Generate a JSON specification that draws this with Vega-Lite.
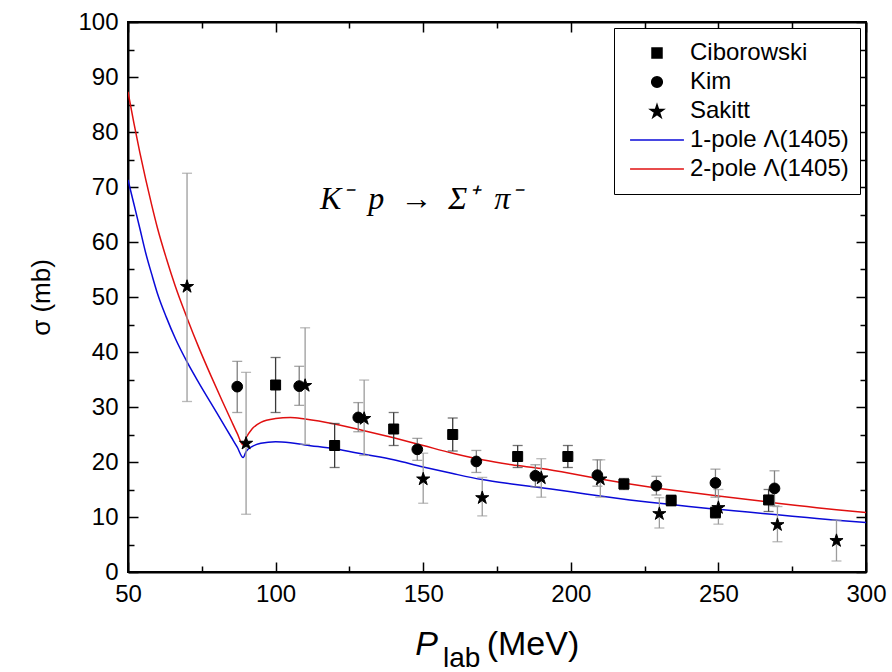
{
  "$schema": "https://vega.github.io/schema/vega-lite/v6.json",
  "width": 738,
  "height": 550,
  "autosize": {"type": "none"},
  "padding": {"left": 128, "top": 22, "right": 26, "bottom": 100},
  "background": "white",
  "config": {
    "view": {"stroke": "black", "strokeWidth": 2},
    "axis": {
      "domainColor": "black", "domainWidth": 2, "tickColor": "black", "tickWidth": 1.5,
      "labelColor": "black", "labelFont": "Liberation Sans", "labelFontSize": 24,
      "grid": false, "titleFont": "Liberation Sans", "titleFontWeight": "normal", "titleColor": "black",
      "labelOverlap": false, "labelFlush": false, "labelBound": false
    },
    "legend": {
      "orient": "top-right", "offset": 6, "padding": 11, "strokeColor": "black", "strokeWidth": 1,
      "fillColor": "white", "labelFont": "Liberation Sans", "labelFontSize": 24, "labelColor": "black",
      "labelOffset": 5, "rowPadding": 1, "clipHeight": 28, "symbolOffset": 4, "symbolStrokeWidth": 1.5,
      "labelLimit": 400
    }
  },
  "datasets": {
    "points": [
      {"series": "Ciborowski", "x": 100, "y": 34, "lo": 29, "hi": 39},
      {"series": "Ciborowski", "x": 120, "y": 23, "lo": 19, "hi": 27},
      {"series": "Ciborowski", "x": 140, "y": 26, "lo": 23, "hi": 29},
      {"series": "Ciborowski", "x": 160, "y": 25, "lo": 22, "hi": 28},
      {"series": "Ciborowski", "x": 182, "y": 21, "lo": 19, "hi": 23},
      {"series": "Ciborowski", "x": 199, "y": 21, "lo": 19, "hi": 23},
      {"series": "Ciborowski", "x": 218, "y": 16, "lo": 15, "hi": 17},
      {"series": "Ciborowski", "x": 234, "y": 13, "lo": 12, "hi": 14},
      {"series": "Ciborowski", "x": 249, "y": 10.8, "lo": 9.8, "hi": 11.8},
      {"series": "Ciborowski", "x": 267, "y": 13.1, "lo": 11, "hi": 15},
      {"series": "Kim", "x": 87, "y": 33.7, "lo": 29, "hi": 38.3},
      {"series": "Kim", "x": 108, "y": 33.8, "lo": 30.3, "hi": 37.4},
      {"series": "Kim", "x": 128, "y": 28.1, "lo": 25.5, "hi": 30.8},
      {"series": "Kim", "x": 148, "y": 22.3, "lo": 20.3, "hi": 24.3},
      {"series": "Kim", "x": 168, "y": 20.1, "lo": 18.1, "hi": 22.1},
      {"series": "Kim", "x": 188, "y": 17.5, "lo": 15.5, "hi": 19.5},
      {"series": "Kim", "x": 209, "y": 17.6, "lo": 15.6, "hi": 20.4},
      {"series": "Kim", "x": 229, "y": 15.7, "lo": 14, "hi": 17.4},
      {"series": "Kim", "x": 249, "y": 16.2, "lo": 13.6, "hi": 18.7},
      {"series": "Kim", "x": 269, "y": 15.2, "lo": 12, "hi": 18.4},
      {"series": "Sakitt", "x": 70, "y": 52, "lo": 31, "hi": 72.5},
      {"series": "Sakitt", "x": 90, "y": 23.5, "lo": 10.5, "hi": 36.3},
      {"series": "Sakitt", "x": 110, "y": 34, "lo": 23.2, "hi": 44.4},
      {"series": "Sakitt", "x": 130, "y": 28, "lo": 21.2, "hi": 34.9},
      {"series": "Sakitt", "x": 150, "y": 17, "lo": 12.5, "hi": 21.6},
      {"series": "Sakitt", "x": 170, "y": 13.6, "lo": 10.2, "hi": 17.2},
      {"series": "Sakitt", "x": 190, "y": 17.2, "lo": 13.6, "hi": 20.6},
      {"series": "Sakitt", "x": 210, "y": 17, "lo": 13.6, "hi": 20.4},
      {"series": "Sakitt", "x": 230, "y": 10.7, "lo": 8, "hi": 13.5},
      {"series": "Sakitt", "x": 250, "y": 11.8, "lo": 8.7, "hi": 15},
      {"series": "Sakitt", "x": 270, "y": 8.7, "lo": 5.5, "hi": 11.9},
      {"series": "Sakitt", "x": 290, "y": 5.8, "lo": 2, "hi": 9.4}
    ],
    "curves": [
      {"series": "1-pole Λ(1405)", "x": 50, "y": 71.3},
      {"series": "1-pole Λ(1405)", "x": 52, "y": 66.9},
      {"series": "1-pole Λ(1405)", "x": 54, "y": 62.5},
      {"series": "1-pole Λ(1405)", "x": 56, "y": 58.0},
      {"series": "1-pole Λ(1405)", "x": 58, "y": 54.2},
      {"series": "1-pole Λ(1405)", "x": 60, "y": 50.6},
      {"series": "1-pole Λ(1405)", "x": 63, "y": 46.3},
      {"series": "1-pole Λ(1405)", "x": 66, "y": 42.5},
      {"series": "1-pole Λ(1405)", "x": 70, "y": 38.2},
      {"series": "1-pole Λ(1405)", "x": 74, "y": 34.4},
      {"series": "1-pole Λ(1405)", "x": 78, "y": 30.8},
      {"series": "1-pole Λ(1405)", "x": 82, "y": 27.2},
      {"series": "1-pole Λ(1405)", "x": 85, "y": 24.5},
      {"series": "1-pole Λ(1405)", "x": 87, "y": 22.7},
      {"series": "1-pole Λ(1405)", "x": 89, "y": 20.8},
      {"series": "1-pole Λ(1405)", "x": 90, "y": 21.9},
      {"series": "1-pole Λ(1405)", "x": 92, "y": 22.8},
      {"series": "1-pole Λ(1405)", "x": 95, "y": 23.4},
      {"series": "1-pole Λ(1405)", "x": 100, "y": 23.7},
      {"series": "1-pole Λ(1405)", "x": 105, "y": 23.5},
      {"series": "1-pole Λ(1405)", "x": 110, "y": 23.1},
      {"series": "1-pole Λ(1405)", "x": 120, "y": 22.4},
      {"series": "1-pole Λ(1405)", "x": 130, "y": 21.4},
      {"series": "1-pole Λ(1405)", "x": 140, "y": 20.4},
      {"series": "1-pole Λ(1405)", "x": 150, "y": 19.1},
      {"series": "1-pole Λ(1405)", "x": 160, "y": 17.9},
      {"series": "1-pole Λ(1405)", "x": 170, "y": 16.8},
      {"series": "1-pole Λ(1405)", "x": 180, "y": 16.0},
      {"series": "1-pole Λ(1405)", "x": 190, "y": 15.3},
      {"series": "1-pole Λ(1405)", "x": 200, "y": 14.6},
      {"series": "1-pole Λ(1405)", "x": 210, "y": 13.8},
      {"series": "1-pole Λ(1405)", "x": 220, "y": 13.1},
      {"series": "1-pole Λ(1405)", "x": 230, "y": 12.5},
      {"series": "1-pole Λ(1405)", "x": 240, "y": 11.9},
      {"series": "1-pole Λ(1405)", "x": 250, "y": 11.4},
      {"series": "1-pole Λ(1405)", "x": 260, "y": 10.9},
      {"series": "1-pole Λ(1405)", "x": 270, "y": 10.4},
      {"series": "1-pole Λ(1405)", "x": 280, "y": 9.9},
      {"series": "1-pole Λ(1405)", "x": 290, "y": 9.4},
      {"series": "1-pole Λ(1405)", "x": 300, "y": 9.0},
      {"series": "2-pole Λ(1405)", "x": 50, "y": 87.3},
      {"series": "2-pole Λ(1405)", "x": 52, "y": 81.6},
      {"series": "2-pole Λ(1405)", "x": 54, "y": 76.3},
      {"series": "2-pole Λ(1405)", "x": 56, "y": 71.4},
      {"series": "2-pole Λ(1405)", "x": 58, "y": 66.8},
      {"series": "2-pole Λ(1405)", "x": 60, "y": 62.5},
      {"series": "2-pole Λ(1405)", "x": 63, "y": 57.0},
      {"series": "2-pole Λ(1405)", "x": 66, "y": 52.0},
      {"series": "2-pole Λ(1405)", "x": 70, "y": 46.2},
      {"series": "2-pole Λ(1405)", "x": 74, "y": 40.8},
      {"series": "2-pole Λ(1405)", "x": 78, "y": 35.8},
      {"series": "2-pole Λ(1405)", "x": 82, "y": 31.0},
      {"series": "2-pole Λ(1405)", "x": 85, "y": 27.5},
      {"series": "2-pole Λ(1405)", "x": 87, "y": 25.2},
      {"series": "2-pole Λ(1405)", "x": 89, "y": 23.1},
      {"series": "2-pole Λ(1405)", "x": 90, "y": 24.4},
      {"series": "2-pole Λ(1405)", "x": 92, "y": 26.0},
      {"series": "2-pole Λ(1405)", "x": 95, "y": 27.2},
      {"series": "2-pole Λ(1405)", "x": 100, "y": 27.9},
      {"series": "2-pole Λ(1405)", "x": 105, "y": 28.1},
      {"series": "2-pole Λ(1405)", "x": 110, "y": 27.8},
      {"series": "2-pole Λ(1405)", "x": 120, "y": 26.9},
      {"series": "2-pole Λ(1405)", "x": 130, "y": 25.7},
      {"series": "2-pole Λ(1405)", "x": 140, "y": 24.4},
      {"series": "2-pole Λ(1405)", "x": 150, "y": 23.0},
      {"series": "2-pole Λ(1405)", "x": 160, "y": 21.6},
      {"series": "2-pole Λ(1405)", "x": 170, "y": 20.4},
      {"series": "2-pole Λ(1405)", "x": 180, "y": 19.5},
      {"series": "2-pole Λ(1405)", "x": 190, "y": 18.8},
      {"series": "2-pole Λ(1405)", "x": 200, "y": 17.9},
      {"series": "2-pole Λ(1405)", "x": 210, "y": 16.9},
      {"series": "2-pole Λ(1405)", "x": 220, "y": 16.0},
      {"series": "2-pole Λ(1405)", "x": 230, "y": 15.2},
      {"series": "2-pole Λ(1405)", "x": 240, "y": 14.5},
      {"series": "2-pole Λ(1405)", "x": 250, "y": 13.8},
      {"series": "2-pole Λ(1405)", "x": 260, "y": 13.2},
      {"series": "2-pole Λ(1405)", "x": 270, "y": 12.5},
      {"series": "2-pole Λ(1405)", "x": 280, "y": 11.9},
      {"series": "2-pole Λ(1405)", "x": 290, "y": 11.3},
      {"series": "2-pole Λ(1405)", "x": 300, "y": 10.8}
    ]
  },
  "layer": [
    {
      "data": {"name": "curves"},
      "mark": {"type": "line", "strokeWidth": 1.5, "interpolate": "monotone", "clip": true},
      "encoding": {
        "x": {"field": "x", "type": "quantitative", "scale": {"domain": [50, 300], "nice": false, "zero": false},
          "axis": {"orient": "top", "values": [50, 100, 150, 200, 250, 300], "labels": false, "title": null, "tickSize": -10}},
        "y": {"field": "y", "type": "quantitative", "scale": {"domain": [0, 100], "nice": false},
          "axis": {"orient": "right", "values": [0, 10, 20, 30, 40, 50, 60, 70, 80, 90, 100], "labels": false, "title": null, "tickSize": -10}},
        "stroke": {"field": "series", "type": "nominal", "legend": {"title": null}},
        "detail": {"field": "series"}
      }
    },
    {
      "data": {"name": "points"},
      "mark": {"type": "tick", "orient": "horizontal", "size": 10, "thickness": 1.3},
      "encoding": {
        "x": {"field": "x", "type": "quantitative", "scale": {"domain": [50, 300], "nice": false, "zero": false},
          "axis": {"orient": "top", "values": [75, 125, 175, 225, 275], "labels": false, "title": null, "domain": false, "tickSize": -6}},
        "y": {"field": "lo", "type": "quantitative", "scale": {"domain": [0, 100], "nice": false},
          "axis": {"orient": "right", "values": [5, 15, 25, 35, 45, 55, 65, 75, 85, 95], "labels": false, "title": null, "domain": false, "tickSize": -6}},
        "color": {"condition": [{"test": "datum.series === 'Ciborowski'", "value": "#3a3a3a"}, {"test": "datum.series === 'Kim'", "value": "#808080"}], "value": "#9c9c9c"}
      }
    },
    {
      "data": {"name": "points"},
      "mark": {"type": "tick", "orient": "horizontal", "size": 10, "thickness": 1.3},
      "encoding": {
        "x": {"field": "x", "type": "quantitative", "scale": {"domain": [50, 300], "nice": false, "zero": false},
          "axis": {"orient": "bottom", "values": [75, 125, 175, 225, 275], "labels": false, "title": null, "domain": false, "tickSize": -6}},
        "y": {"field": "hi", "type": "quantitative", "scale": {"domain": [0, 100], "nice": false},
          "axis": {"orient": "left", "values": [5, 15, 25, 35, 45, 55, 65, 75, 85, 95], "labels": false, "title": null, "domain": false, "tickSize": -6}},
        "color": {"condition": [{"test": "datum.series === 'Ciborowski'", "value": "#3a3a3a"}, {"test": "datum.series === 'Kim'", "value": "#808080"}], "value": "#9c9c9c"}
      }
    },
    {
      "layer": [
        {
          "data": {"name": "points"},
          "mark": {"type": "rule", "strokeWidth": 1.3},
          "encoding": {
            "x": {"field": "x", "type": "quantitative", "scale": {"domain": [50, 300], "nice": false, "zero": false},
              "axis": {"orient": "bottom", "values": [50, 100, 150, 200, 250, 300], "title": null, "tickSize": -10, "labelPadding": 20}},
            "y": {"field": "lo", "type": "quantitative", "scale": {"domain": [0, 100], "nice": false},
              "axis": {"orient": "left", "values": [0, 10, 20, 30, 40, 50, 60, 70, 80, 90, 100],
                "title": "σ (mb)", "titleFontSize": 26, "titlePadding": 23, "tickSize": -10, "labelPadding": 20}},
            "y2": {"field": "hi"},
            "color": {"condition": [{"test": "datum.series === 'Ciborowski'", "value": "#3a3a3a"}, {"test": "datum.series === 'Kim'", "value": "#808080"}], "value": "#9c9c9c"}
          }
        },
        {
          "data": {"name": "points"},
          "mark": {"type": "point", "filled": true, "opacity": 1, "strokeWidth": 1},
          "encoding": {
            "x": {"field": "x", "type": "quantitative"},
            "y": {"field": "y", "type": "quantitative"},
            "shape": {"field": "series", "type": "nominal", "legend": {"title": null},
              "scale": {"domain": ["Ciborowski", "Kim", "Sakitt", "1-pole Λ(1405)", "2-pole Λ(1405)"],
                "range": ["square", "circle", "M0,-0.905L0.2245,-0.214L0.9511,-0.214L0.3633,0.213L0.5878,0.904L0,0.477L-0.5878,0.904L-0.3633,0.213L-0.9511,-0.214L-0.2245,-0.214Z", "stroke", "stroke"]}},
            "fill": {"field": "series", "type": "nominal", "legend": {"title": null},
              "scale": {"domain": ["Ciborowski", "Kim", "Sakitt", "1-pole Λ(1405)", "2-pole Λ(1405)"],
                "range": ["black", "black", "black", "#0a0ad8", "#e01010"]}},
            "stroke": {"field": "series", "type": "nominal", "legend": {"title": null},
              "scale": {"domain": ["Ciborowski", "Kim", "Sakitt", "1-pole Λ(1405)", "2-pole Λ(1405)"],
                "range": ["black", "black", "black", "#0a0ad8", "#e01010"]}},
            "size": {"field": "series", "type": "nominal", "legend": {"title": null},
              "scale": {"type": "ordinal", "domain": ["Ciborowski", "Kim", "Sakitt", "1-pole Λ(1405)", "2-pole Λ(1405)"],
                "range": [100, 115, 190, 2900, 2900]}}
          }
        },
        {
          "data": {"values": [{}]},
          "mark": {"type": "text", "text": "K⁻\u2002p\u2002→\u2002Σ⁺\u2002π⁻", "font": "Liberation Serif", "fontStyle": "italic", "fontSize": 32, "align": "left", "baseline": "alphabetic", "color": "black"},
          "encoding": {"x": {"datum": 115}, "y": {"datum": 66}}
        },
        {
          "data": {"values": [{}]},
          "mark": {"type": "text", "text": "P", "font": "Liberation Sans", "fontStyle": "italic", "fontSize": 34, "align": "left", "baseline": "alphabetic", "dy": 83, "color": "black"},
          "encoding": {"x": {"datum": 147.3}, "y": {"datum": 0}}
        },
        {
          "data": {"values": [{}]},
          "mark": {"type": "text", "text": "lab", "font": "Liberation Sans", "fontSize": 28, "align": "left", "baseline": "alphabetic", "dy": 95, "color": "black"},
          "encoding": {"x": {"datum": 156.7}, "y": {"datum": 0}}
        },
        {
          "data": {"values": [{}]},
          "mark": {"type": "text", "text": "(MeV)", "font": "Liberation Sans", "fontSize": 34, "align": "left", "baseline": "alphabetic", "dy": 83, "color": "black"},
          "encoding": {"x": {"datum": 171.5}, "y": {"datum": 0}}
        }
      ]
    }
  ],
  "resolve": {"scale": {"x": "independent", "y": "independent"}, "axis": {"x": "independent", "y": "independent"}}
}
